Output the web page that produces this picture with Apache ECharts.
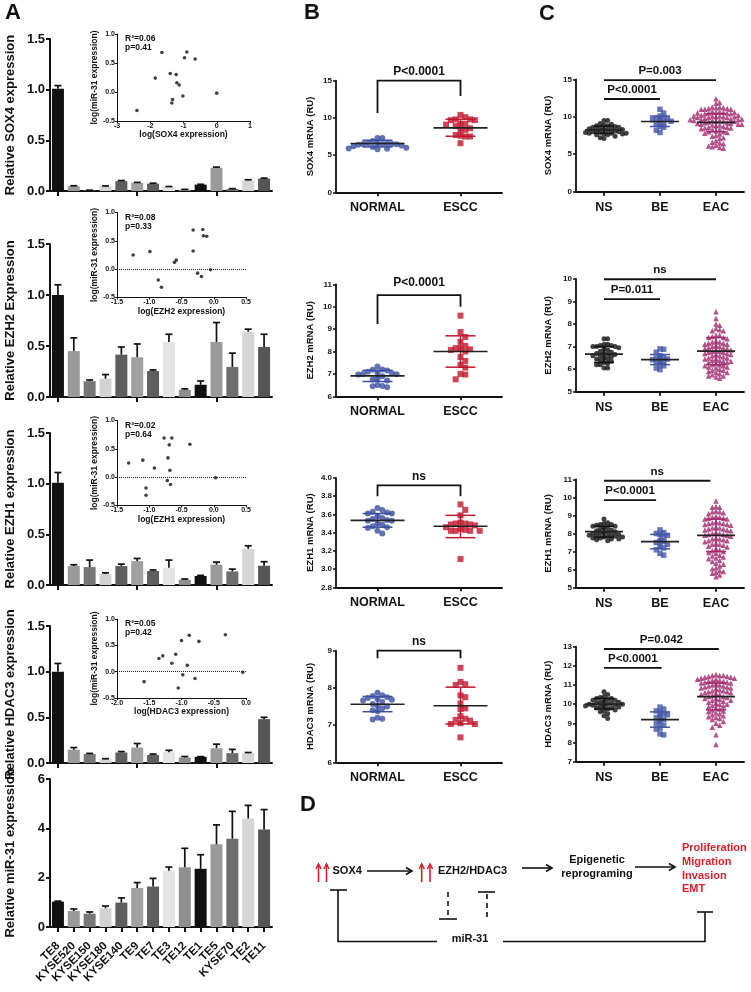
<!DOCTYPE html>
<html>
<head>
<meta charset="utf-8">
<script src="https://cdn.jsdelivr.net/npm/echarts@6/dist/echarts.min.js"></script>
<style>
html, body { margin: 0; padding: 0; background: #fff; }
#fig { width: 751px; height: 992px; }
</style>
</head>
<body>
<div id="fig"></div>
<script>
const FONT = '"Liberation Sans", Arial, sans-serif';
const INK = '#111';

// ---- Panel A: cell lines ----
const cellLines = ['TE8', 'KYSE520', 'KYSE150', 'KYSE180', 'KYSE140', 'TE9', 'TE7', 'TE3', 'TE12', 'TE1', 'TE5', 'KYSE70', 'TE2', 'TE11'];
const sox4Rel = [1.01, 0.047, 0.006, 0.045, 0.097, 0.08, 0.073, 0.04, 0.013, 0.063, 0.23, 0.02, 0.105, 0.122];
const sox4Err = [0.03, 0.005, 0.002, 0.005, 0.006, 0.005, 0.004, 0.004, 0.003, 0.003, 0.006, 0.003, 0.006, 0.005];
const ezh2Rel = [1.0, 0.45, 0.155, 0.18, 0.415, 0.39, 0.255, 0.54, 0.07, 0.12, 0.54, 0.295, 0.64, 0.49];
const ezh2Err = [0.1, 0.13, 0.012, 0.04, 0.075, 0.13, 0.01, 0.075, 0.01, 0.037, 0.19, 0.135, 0.025, 0.125];
const ezh1Rel = [1.01, 0.187, 0.177, 0.108, 0.187, 0.236, 0.138, 0.17, 0.052, 0.089, 0.2, 0.134, 0.357, 0.19];
const ezh1Err = [0.1, 0.013, 0.069, 0.012, 0.019, 0.026, 0.01, 0.076, 0.007, 0.006, 0.026, 0.023, 0.03, 0.04];
const hdac3Rel = [1.0, 0.145, 0.098, 0.04, 0.115, 0.169, 0.088, 0.118, 0.06, 0.068, 0.162, 0.108, 0.108, 0.48];
const hdac3Err = [0.09, 0.024, 0.007, 0.007, 0.01, 0.044, 0.01, 0.021, 0.011, 0.002, 0.044, 0.041, 0.007, 0.02];
const mir31Rel = [1.03, 0.65, 0.54, 0.76, 0.99, 1.58, 1.64, 2.28, 2.42, 2.36, 3.35, 3.58, 4.4, 3.95];
const mir31Err = [0.02, 0.08, 0.07, 0.09, 0.19, 0.22, 0.33, 0.15, 0.77, 0.57, 0.79, 1.11, 0.53, 0.81];
const barShades = ['#111111', '#9a9a9a', '#777777', '#d2d2d2', '#5e5e5e', '#a0a0a0', '#5e5e5e', '#e4e4e4', '#8e8e8e', '#111111', '#9a9a9a', '#6e6e6e', '#d6d6d6', '#555555'];

// inset correlations: [log(gene expression), log(miR-31 expression)]
const sox4Log = [[-2.4, -0.32], [-1.85, 0.24], [-1.65, 0.68], [-1.4, 0.32], [-1.22, 0.3], [-1.2, 0.16], [-1.13, 0.12], [-1.33, -0.13], [-1.35, -0.19], [-1.02, -0.07], [-0.97, 0.59], [-0.9, 0.69], [-0.65, 0.57], [0.0, -0.02]];
const ezh2Log = [[-1.25, 0.25], [-0.99, 0.31], [-0.86, -0.19], [-0.81, -0.32], [-0.61, 0.12], [-0.58, 0.16], [-0.32, 0.69], [-0.32, 0.32], [-0.25, -0.07], [-0.19, -0.13], [-0.17, 0.7], [-0.16, 0.59], [-0.11, 0.58], [-0.05, -0.01]];
const ezh1Log = [[-1.32, 0.25], [-1.1, 0.3], [-1.05, -0.19], [-1.05, -0.32], [-0.92, 0.16], [-0.77, 0.69], [-0.71, 0.34], [-0.69, 0.57], [-0.68, 0.12], [-0.72, -0.06], [-0.67, -0.13], [-0.65, 0.69], [-0.37, 0.58], [0.03, -0.01]];
const hdac3Log = [[-1.58, -0.19], [-1.35, 0.25], [-1.29, 0.3], [-1.15, 0.16], [-1.09, 0.33], [-1.05, -0.31], [-0.98, -0.06], [-0.91, 0.12], [-0.79, -0.13], [-0.05, -0.01], [-1.0, 0.59], [-0.88, 0.69], [-0.73, 0.575], [-0.32, 0.7]];

// ---- Panel B: tissues (NORMAL vs ESCC) ----
const bGroups = ['NORMAL', 'ESCC'];
const normalSox4 = [7.3, 7.3, 6.9, 6.6, 6.6, 6.55, 6.5, 6.5, 6.5, 6.45, 6.4, 6.3, 6.2, 6.1, 6.0, 5.9, 5.85, 5.8];
const esccSox4 = [10.4, 10.1, 9.8, 9.8, 9.7, 9.7, 9.2, 9.2, 9.1, 8.9, 8.6, 8.4, 8.4, 7.7, 7.6, 7.5, 7.5, 6.6];
const normalEzh2 = [7.33, 7.2, 7.18, 7.15, 7.1, 7.05, 7.03, 7.0, 6.98, 6.97, 6.9, 6.78, 6.75, 6.7, 6.5, 6.46, 6.4, 6.45];
const esccEzh2 = [9.6, 8.87, 8.65, 8.43, 8.25, 8.15, 8.15, 8.1, 8.07, 8.0, 7.75, 7.58, 7.4, 7.28, 7.0, 6.97, 6.76];
const normalEzh1 = [3.67, 3.65, 3.63, 3.62, 3.61, 3.61, 3.58, 3.56, 3.55, 3.54, 3.53, 3.53, 3.5, 3.49, 3.47, 3.46, 3.45, 3.42, 3.39];
const esccEzh1 = [3.71, 3.65, 3.59, 3.51, 3.5, 3.5, 3.49, 3.49, 3.48, 3.46, 3.44, 3.43, 3.42, 3.42, 3.42, 3.42, 3.11];
const normalHdac3 = [7.87, 7.8, 7.78, 7.75, 7.73, 7.7, 7.68, 7.66, 7.62, 7.57, 7.52, 7.5, 7.45, 7.4, 7.37, 7.2, 7.17, 7.15];
const esccHdac3 = [8.54, 8.16, 8.1, 8.08, 7.8, 7.75, 7.58, 7.45, 7.43, 7.24, 7.17, 7.14, 7.12, 7.05, 7.03, 7.03, 6.67];
// [mean, +SD, -SD] per group
const bSox4Stats = [[6.56, 7.0, 6.1], [8.66, 9.82, 7.54]];
const bEzh2Stats = [[6.91, 7.16, 6.66], [8.0, 8.7, 7.3]];
const bEzh1Stats = [[3.535, 3.61, 3.46], [3.47, 3.59, 3.345]];
const bHdac3Stats = [[7.56, 7.77, 7.36], [7.52, 8.02, 7.03]];

// ---- Panel C: NS / BE / EAC ----
const cGroups = ['NS', 'BE', 'EAC'];
const nsSox4 = [9.5, 9.5, 9.1, 9.0, 8.9, 8.8, 8.8, 8.7, 8.6, 8.6, 8.5, 8.4, 8.4, 8.3, 8.3, 8.2, 8.2, 8.1, 8.0, 8.0, 7.9, 7.9, 7.8, 7.8, 7.8, 7.7, 7.7, 7.6, 7.6, 7.4, 7.2, 7.1];
const beSox4 = [11.0, 10.5, 10.1, 9.9, 9.8, 9.7, 9.6, 9.5, 9.4, 9.2, 9.0, 8.7, 8.6, 8.2, 7.9];
const eacSox4 = [12.4, 11.9, 11.8, 11.3, 11.3, 11.2, 11.2, 11.1, 11.1, 11.0, 11.0, 11.0,
  10.7, 10.7, 10.6, 10.6, 10.6, 10.5, 10.5, 10.5, 10.4, 10.4,
  10.2, 10.2, 10.1, 10.1, 10.1, 10.0, 10.0, 10.0, 9.9, 9.9, 9.9, 9.8,
  9.7, 9.7, 9.6, 9.6, 9.6, 9.5, 9.5, 9.5, 9.4, 9.4, 9.4, 9.3,
  9.2, 9.2, 9.1, 9.1, 9.0, 9.0, 9.0, 8.9, 8.9, 8.8,
  8.7, 8.6, 8.6, 8.5, 8.5, 8.4, 8.3, 8.3,
  8.1, 8.0, 8.0, 7.9, 7.8, 7.7,
  7.5, 7.4, 7.2, 7.1,
  6.8, 6.6, 6.5, 6.4,
  6.2, 6.1, 6.0, 5.9, 5.8];
const nsEzh2 = [7.35, 7.35, 7.1, 7.1, 7.05, 7.05, 7.0, 7.0, 7.0, 6.95, 6.9, 6.85, 6.8, 6.75, 6.7, 6.7, 6.65, 6.65, 6.6, 6.6, 6.55, 6.5, 6.45, 6.45, 6.4, 6.35, 6.3, 6.25, 6.2, 6.2, 6.05, 6.05];
const beEzh2 = [6.9, 6.88, 6.75, 6.6, 6.55, 6.5, 6.45, 6.42, 6.4, 6.35, 6.3, 6.2, 6.15, 6.05, 5.98];
const eacEzh2 = [8.55, 8.25, 8.0, 7.95, 7.8, 7.75, 7.7, 7.7, 7.5, 7.5, 7.45, 7.4, 7.4, 7.35,
  7.25, 7.2, 7.2, 7.15, 7.15, 7.1, 7.1, 7.05,
  7.0, 7.0, 6.95, 6.95, 6.9, 6.9, 6.85, 6.85, 6.8,
  6.8, 6.75, 6.75, 6.7, 6.7, 6.65, 6.65, 6.6, 6.6, 6.55,
  6.5, 6.5, 6.45, 6.45, 6.4, 6.4, 6.35, 6.35, 6.3, 6.3,
  6.25, 6.2, 6.2, 6.15, 6.15, 6.1, 6.1, 6.05, 6.0,
  5.95, 5.95, 5.9, 5.85, 5.85, 5.8,
  5.75, 5.7, 5.7, 5.65, 5.6];
const nsEzh1 = [8.8, 8.6, 8.55, 8.5, 8.5, 8.45, 8.4, 8.4, 8.35, 8.3, 8.25, 8.2, 8.15, 8.1, 8.1, 8.05, 8.0, 8.0, 7.95, 7.95, 7.9, 7.9, 7.85, 7.85, 7.8, 7.8, 7.75, 7.75, 7.7, 7.7, 7.65, 7.6];
const beEzh1 = [8.2, 8.05, 8.0, 7.95, 7.9, 7.8, 7.6, 7.55, 7.5, 7.4, 7.3, 7.2, 7.1, 6.9, 6.8];
const eacEzh1 = [9.8, 9.5, 9.45, 9.45, 9.25, 9.2, 9.2, 9.15, 9.1,
  8.95, 8.9, 8.9, 8.85, 8.85, 8.8, 8.8,
  8.65, 8.6, 8.6, 8.55, 8.55, 8.5, 8.5, 8.45,
  8.35, 8.3, 8.3, 8.25, 8.25, 8.2, 8.2, 8.15,
  8.05, 8.0, 8.0, 7.95, 7.95, 7.9, 7.9, 7.85,
  7.75, 7.7, 7.7, 7.65, 7.6, 7.6, 7.55,
  7.45, 7.4, 7.4, 7.35, 7.3, 7.25,
  7.15, 7.1, 7.05, 7.0, 6.95, 6.9,
  6.8, 6.75, 6.7, 6.65, 6.6,
  6.5, 6.45, 6.35, 6.3,
  6.2, 6.1, 6.05,
  5.95, 5.9, 5.85, 5.8,
  5.7, 5.6];
const nsHdac3 = [10.65, 10.5, 10.4, 10.35, 10.3, 10.3, 10.25, 10.2, 10.2, 10.15, 10.1, 10.1, 10.05, 10.05, 10.0, 10.0, 10.0, 9.95, 9.95, 9.9, 9.9, 9.85, 9.85, 9.8, 9.8, 9.75, 9.7, 9.65, 9.6, 9.5, 9.4, 9.25];
const beHdac3 = [9.85, 9.75, 9.65, 9.6, 9.5, 9.45, 9.35, 9.3, 9.2, 9.1, 9.0, 8.9, 8.75, 8.7, 8.45, 8.4];
const eacHdac3 = [11.55, 11.5, 11.5, 11.5, 11.45, 11.45, 11.4, 11.4, 11.35, 11.35,
  11.3, 11.3, 11.25, 11.25, 11.2, 11.2, 11.15, 11.15, 11.1, 11.1,
  11.05, 11.0, 11.0, 10.95, 10.95, 10.9, 10.9, 10.85, 10.85, 10.8,
  10.75, 10.7, 10.7, 10.65, 10.65, 10.6, 10.6, 10.55, 10.5, 10.5,
  10.45, 10.4, 10.4, 10.35, 10.3, 10.3, 10.25, 10.2, 10.2, 10.15,
  10.1, 10.05, 10.0, 10.0, 9.95, 9.9, 9.85, 9.8, 9.75,
  9.7, 9.65, 9.6, 9.55, 9.5, 9.45, 9.4, 9.35,
  9.3, 9.25, 9.2, 9.1, 9.0,
  8.9, 8.8, 8.4, 7.9];
const cSox4Stats = [[8.26, 8.75, 7.8], [9.37, 10.1, 8.7], [9.24, 10.4, 8.0]];
const cEzh2Stats = [[6.67, 7.0, 6.3], [6.42, 6.65, 6.2], [6.8, 7.4, 6.2]];
const cEzh1Stats = [[8.1, 8.4, 7.8], [7.55, 7.95, 7.15], [7.9, 8.8, 7.0]];
const cHdac3Stats = [[10.0, 10.3, 9.75], [9.2, 9.6, 8.8], [10.4, 11.1, 9.7]];

// significance marks (data coords of each plot)
const bSox4Sig = [{ x: [0, 1], y: 15, legs: [10.66, 12.94], label: 'P<0.0001' }];
const bEzh2Sig = [{ x: [0, 1], y: 10.52, legs: [9.23, 10.0], label: 'P<0.0001' }];
const bEzh1Sig = [{ x: [0, 1], y: 3.92, legs: [3.8, 3.8], label: 'ns' }];
const bHdac3Sig = [{ x: [0, 1], y: 9.0, legs: [8.8, 8.8], label: 'ns' }];
const cSox4Sig = [{ x: [0, 2], y: 14.9, label: 'P=0.003' }, { x: [0, 1], y: 12.37, label: 'P<0.0001' }];
const cEzh2Sig = [{ x: [0, 2], y: 9.99, label: 'ns' }, { x: [0, 1], y: 9.11, label: 'P=0.011' }];
const cEzh1Sig = [{ x: [0, 1.9], y: 10.92, label: 'ns' }, { x: [0, 0.93], y: 9.85, label: 'P<0.0001' }];
const cHdac3Sig = [{ x: [0, 2.05], y: 12.88, label: 'P=0.042' }, { x: [0, 1.03], y: 11.9, label: 'P<0.0001' }];

// ---------------------------------------------------------------
const grids = [], xAxes = [], yAxes = [], series = [], graphics = [];

function lineOf(w) { return { show: true, onZero: false, lineStyle: { color: INK, width: w } }; }

function errorBarItem(params, api) {
  const base = api.coord([api.value(0), api.value(1)]);
  const top = api.coord([api.value(0), api.value(1) + api.value(2)]);
  const st = { stroke: INK, lineWidth: 1.7 };
  return { type: 'group', children: [
    { type: 'line', shape: { x1: base[0], y1: base[1], x2: top[0], y2: top[1] }, style: st },
    { type: 'line', shape: { x1: top[0] - 3.5, y1: top[1], x2: top[0] + 3.5, y2: top[1] }, style: st }
  ] };
}

function addBarPanel(p) {
  const gi = grids.length, xi = xAxes.length, yi = yAxes.length;
  grids.push({ left: 50, top: p.top, width: 222, height: p.height, containLabel: false, outerBoundsMode: 'none' });
  xAxes.push({
    gridIndex: gi, type: 'category', data: cellLines,
    axisLine: lineOf(2),
    axisTick: { show: true, alignWithLabel: true, length: 5, lineStyle: { width: 2, color: INK } },
    axisLabel: p.labels
      ? { show: true, rotate: 45, interval: 0, fontSize: 11.5, fontWeight: 'bold', color: INK, margin: 17 }
      : { show: false }
  });
  yAxes.push({
    gridIndex: gi, type: 'value', min: 0, max: p.max, interval: p.step,
    name: p.title, nameLocation: 'middle', nameGap: 33, nameRotate: 90,
    nameTextStyle: { fontSize: 13, fontWeight: 'bold', color: INK },
    axisLine: lineOf(2),
    axisTick: { show: true, length: 4, lineStyle: { width: 2, color: INK } },
    splitLine: { show: false },
    axisLabel: { fontSize: 13, fontWeight: 'bold', color: INK, margin: 5, formatter: p.fmt }
  });
  series.push({
    type: 'bar', xAxisIndex: xi, yAxisIndex: yi, barWidth: 12, silent: true,
    data: p.values.map((v, i) => ({ value: v, itemStyle: { color: barShades[i] } }))
  });
  series.push({
    type: 'custom', xAxisIndex: xi, yAxisIndex: yi, z: 3, silent: true,
    data: p.values.map((v, i) => [i, v, p.errors[i]]), renderItem: errorBarItem
  });
}

function addInset(p) {
  const gi = grids.length, xi = xAxes.length, yi = yAxes.length;
  grids.push({ left: 117, top: p.top, width: p.width, height: p.height, containLabel: false, outerBoundsMode: 'none' });
  xAxes.push({
    gridIndex: gi, type: 'value', min: p.xmin, max: p.xmax, interval: p.xstep,
    name: p.xname, nameLocation: 'middle', nameGap: 9,
    nameTextStyle: { fontSize: 8.5, fontWeight: 'bold', color: INK },
    axisLine: lineOf(1), axisTick: { length: 2, lineStyle: { width: 1, color: INK } },
    axisLabel: { fontSize: 7, fontWeight: 'bold', color: INK, margin: 1.5, formatter: p.xfmt },
    splitLine: { show: false }
  });
  yAxes.push({
    gridIndex: gi, type: 'value', min: -0.5, max: 1, interval: 0.5,
    name: 'log(miR-31 expression)', nameLocation: 'middle', nameGap: 9, nameRotate: 90,
    nameTextStyle: { fontSize: 8.5, fontWeight: 'bold', color: INK },
    axisLine: lineOf(1), axisTick: { length: 2, lineStyle: { width: 1, color: INK } },
    axisLabel: { fontSize: 7, fontWeight: 'bold', color: INK, margin: 2, formatter: v => v.toFixed(1) },
    splitLine: { show: false }
  });
  const s = {
    type: 'scatter', xAxisIndex: xi, yAxisIndex: yi, symbolSize: 3.6, silent: true,
    itemStyle: { color: INK }, data: p.points
  };
  if (p.zero) {
    s.markLine = {
      silent: true, symbol: ['none', 'none'], label: { show: false },
      lineStyle: { type: 'dotted', color: '#222', width: 1 }, data: [{ yAxis: 0 }]
    };
  }
  series.push(s);
  graphics.push({ type: 'text', x: 125, y: p.top + 5, style: { text: p.r2, font: 'bold 8.5px ' + FONT, fill: INK, verticalAlign: 'middle' } });
  graphics.push({ type: 'text', x: 125, y: p.top + 14, style: { text: p.pv, font: 'bold 8.5px ' + FONT, fill: INK, verticalAlign: 'middle' } });
}

// spread points sideways so equal values do not hide each other
function swarm(values, center, pxX, pxY, wx, wy) {
  const order = values.map((v, i) => i).sort((a, b) => values[b] - values[a]);
  const placed = [], pts = [];
  order.forEach(i => {
    const py = values[i] * pxY;
    let off = 0;
    for (let k = 0; k < 400; k++) {
      const cand = (k % 2 ? 1 : -1) * Math.ceil(k / 2) * wx / 2;
      if (!placed.some(q => Math.abs(q[0] - cand) < wx - 0.01 && Math.abs(q[1] - py) < wy)) { off = cand; break; }
    }
    placed.push([off, py]);
    pts.push([center + off / pxX, values[i]]);
  });
  return pts;
}

function meanSdItem(colors, halfMean, halfCap) {
  return function (params, api) {
    const k = api.value(0);
    const m = api.coord([k, api.value(1)]);
    const hi = api.coord([k, api.value(2)]);
    const lo = api.coord([k, api.value(3)]);
    const c = colors[params.dataIndex];
    return { type: 'group', children: [
      { type: 'line', shape: { x1: hi[0], y1: hi[1], x2: lo[0], y2: lo[1] }, style: { stroke: c, lineWidth: 1.5 } },
      { type: 'line', shape: { x1: hi[0] - halfCap, y1: hi[1], x2: hi[0] + halfCap, y2: hi[1] }, style: { stroke: c, lineWidth: 1.5 } },
      { type: 'line', shape: { x1: lo[0] - halfCap, y1: lo[1], x2: lo[0] + halfCap, y2: lo[1] }, style: { stroke: c, lineWidth: 1.5 } },
      { type: 'line', shape: { x1: m[0] - halfMean, y1: m[1], x2: m[0] + halfMean, y2: m[1] }, style: { stroke: '#222', lineWidth: 1.7 } }
    ] };
  };
}

function sigItem(list, fontSize, gap) {
  return function (params, api) {
    const a = list[params.dataIndex];
    const l = api.coord([a.x[0], a.y]);
    const r = api.coord([a.x[1], a.y]);
    const pts = [];
    if (a.legs) pts.push(api.coord([a.x[0], a.legs[0]]));
    pts.push(l, r);
    if (a.legs) pts.push(api.coord([a.x[1], a.legs[1]]));
    return { type: 'group', children: [
      { type: 'polyline', shape: { points: pts }, style: { stroke: INK, lineWidth: 1.8, fill: null } },
      { type: 'text', x: (l[0] + r[0]) / 2, y: l[1] - gap,
        style: { text: a.label, font: 'bold ' + fontSize + 'px ' + FONT, fill: INK, align: 'center', verticalAlign: 'bottom' } }
    ] };
  };
}

function addDotPlot(p) {
  const gi = grids.length, xi = xAxes.length, yi = yAxes.length;
  grids.push({ left: p.left, top: p.top, width: p.width, height: p.height, containLabel: false, outerBoundsMode: 'none' });
  xAxes.push({
    gridIndex: gi, type: 'category', data: p.groups,
    axisLine: lineOf(1.8),
    axisTick: { show: true, alignWithLabel: true, length: 4, lineStyle: { width: 1.8, color: INK } },
    axisLabel: { fontSize: 12.5, fontWeight: 'bold', color: INK, margin: 9 }
  });
  xAxes.push({ gridIndex: gi, type: 'value', min: -0.5, max: p.groups.length - 0.5, show: false });
  yAxes.push({
    gridIndex: gi, type: 'value', min: p.ymin, max: p.ymax, interval: p.ystep,
    name: p.title, nameLocation: 'middle', nameGap: p.nameGap, nameRotate: 90,
    nameTextStyle: { fontSize: 9.5, fontWeight: 'bold', color: INK },
    axisLine: lineOf(1.8),
    axisTick: { show: true, length: 3, lineStyle: { width: 1.5, color: INK } },
    splitLine: { show: false },
    axisLabel: { fontSize: 8, fontWeight: 'bold', color: INK, margin: 4, formatter: p.fmt }
  });
  const vx = xi + 1;
  const pxX = p.width / p.groups.length;
  const pxY = p.height / (p.ymax - p.ymin);
  p.sets.forEach((vals, k) => {
    series.push({
      type: 'scatter', xAxisIndex: vx, yAxisIndex: yi, silent: true,
      symbol: p.symbols[k], symbolSize: p.sizes[k], itemStyle: { color: p.colors[k] },
      data: swarm(vals, k, pxX, pxY, p.wx, p.wy)
    });
  });
  series.push({
    type: 'custom', xAxisIndex: vx, yAxisIndex: yi, z: 4, silent: true,
    data: p.stats.map((s, k) => [k, s[0], s[1], s[2]]),
    renderItem: meanSdItem(p.sdColors, p.halfMean, p.halfCap)
  });
  series.push({
    type: 'custom', xAxisIndex: vx, yAxisIndex: yi, z: 4, silent: true, clip: false,
    data: p.sig.map(a => [a.x[0], a.y]),
    renderItem: sigItem(p.sig, p.sigFont, p.sigGap)
  });
}

// ---- Panel A ----
const fmt1 = v => v.toFixed(1);
addBarPanel({ top: 39, height: 152, max: 1.5, step: 0.5, fmt: fmt1, title: 'Relative SOX4 expression', values: sox4Rel, errors: sox4Err });
addBarPanel({ top: 244, height: 153, max: 1.5, step: 0.5, fmt: fmt1, title: 'Relative EZH2 Expression', values: ezh2Rel, errors: ezh2Err });
addBarPanel({ top: 433, height: 152, max: 1.5, step: 0.5, fmt: fmt1, title: 'Relative EZH1 expression', values: ezh1Rel, errors: ezh1Err });
addBarPanel({ top: 626, height: 137, max: 1.5, step: 0.5, fmt: fmt1, title: 'Relative HDAC3 expression', values: hdac3Rel, errors: hdac3Err });
addBarPanel({ top: 779, height: 148, max: 6, step: 2, fmt: v => String(v), title: 'Relative miR-31 expression', values: mir31Rel, errors: mir31Err, labels: true });

addInset({ top: 34, width: 133, height: 87, xmin: -3, xmax: 1, xstep: 1, xfmt: v => String(v), xname: 'log(SOX4 expression)', points: sox4Log, r2: 'R²=0.06', pv: 'p=0.41' });
addInset({ top: 212.5, width: 129, height: 85, xmin: -1.5, xmax: 0.5, xstep: 0.5, xfmt: fmt1, xname: 'log(EZH2 expression)', points: ezh2Log, zero: true, r2: 'R²=0.08', pv: 'p=0.33' });
addInset({ top: 420.5, width: 129, height: 85, xmin: -1.5, xmax: 0.5, xstep: 0.5, xfmt: fmt1, xname: 'log(EZH1 expression)', points: ezh1Log, zero: true, r2: 'R²=0.02', pv: 'p=0.64' });
addInset({ top: 619, width: 129, height: 79, xmin: -2, xmax: 0, xstep: 0.5, xfmt: fmt1, xname: 'log(HDAC3 expression)', points: hdac3Log, zero: true, r2: 'R²=0.05', pv: 'p=0.42' });

// ---- Panel B ----
const blue = '#3b4fa0', red = '#c0172c', magenta = '#a0286e';
const bBase = { left: 336, width: 166, groups: bGroups, symbols: ['circle', 'rect'], sizes: [6, 6], colors: [blue, red], sdColors: [blue, red], halfMean: 27, halfCap: 15, wx: 4.8, wy: 5.5, nameGap: 21, sigFont: 12, sigGap: 3 };
addDotPlot(Object.assign({}, bBase, { top: 80.7, height: 111.6, ymin: 0, ymax: 15, ystep: 5, fmt: v => String(v), title: 'SOX4 mRNA (RU)', sets: [normalSox4, esccSox4], stats: bSox4Stats, sig: bSox4Sig }));
addDotPlot(Object.assign({}, bBase, { top: 284.3, height: 112, ymin: 6, ymax: 11, ystep: 1, fmt: v => String(v), title: 'EZH2 mRNA (RU)', sets: [normalEzh2, esccEzh2], stats: bEzh2Stats, sig: bEzh2Sig, sigGap: 6 }));
addDotPlot(Object.assign({}, bBase, { top: 478, height: 109.3, ymin: 2.8, ymax: 4.0, ystep: 0.2, fmt: fmt1, title: 'EZH1 mRNA (RU)', sets: [normalEzh1, esccEzh1], stats: bEzh1Stats, sig: bEzh1Sig }));
addDotPlot(Object.assign({}, bBase, { top: 650.7, height: 111.6, ymin: 6, ymax: 9, ystep: 1, fmt: v => String(v), title: 'HDAC3 mRNA (RU)', sets: [normalHdac3, esccHdac3], stats: bHdac3Stats, sig: bHdac3Sig }));

// ---- Panel C ----
const cBase = { left: 576, width: 168, groups: cGroups, symbols: ['circle', 'rect', 'triangle'], sizes: [5, 5.5, 5.5], colors: [INK, '#4456a6', magenta], sdColors: [INK, '#4456a6', magenta], halfMean: 19, halfCap: 10, wx: 3.7, wy: 4.3, nameGap: 23, sigFont: 11.5, sigGap: 3 };
addDotPlot(Object.assign({}, cBase, { top: 79.3, height: 112.4, ymin: 0, ymax: 15, ystep: 5, fmt: v => String(v), title: 'SOX4 mRNA (RU)', sets: [nsSox4, beSox4, eacSox4], stats: cSox4Stats, sig: cSox4Sig }));
addDotPlot(Object.assign({}, cBase, { top: 279, height: 112.7, ymin: 5, ymax: 10, ystep: 1, fmt: v => String(v), title: 'EZH2 mRNA (RU)', sets: [nsEzh2, beEzh2, eacEzh2], stats: cEzh2Stats, sig: cEzh2Sig }));
addDotPlot(Object.assign({}, cBase, { top: 479.3, height: 108.4, ymin: 5, ymax: 11, ystep: 1, fmt: v => String(v), title: 'EZH1 mRNA (RU)', sets: [nsEzh1, beEzh1, eacEzh1], stats: cEzh1Stats, sig: cEzh1Sig }));
addDotPlot(Object.assign({}, cBase, { top: 646.7, height: 115, ymin: 7, ymax: 13, ystep: 1, fmt: v => String(v), title: 'HDAC3 mRNA (RU)', sets: [nsHdac3, beHdac3, eacHdac3], stats: cHdac3Stats, sig: cHdac3Sig }));

// ---- panel letters ----
[['A', 5, 13], ['B', 304, 12.5], ['C', 539, 13.5], ['D', 300, 805]].forEach(l => {
  graphics.push({ type: 'text', x: l[1], y: l[2], style: { text: l[0], font: 'bold 22px ' + FONT, fill: INK, verticalAlign: 'middle' } });
});

// ---- Panel D: schematic ----
const RED = '#d81f2a';
function seg(x1, y1, x2, y2, color, dash) {
  return { type: 'line', shape: { x1, y1, x2, y2 }, style: { stroke: color || INK, lineWidth: 1.6, lineDash: dash || null } };
}
function poly(points, color, w) {
  return { type: 'polyline', shape: { points }, style: { stroke: color || INK, lineWidth: w || 1.6, fill: null } };
}
function arrowRight(x1, x2, y) {
  return [seg(x1, y, x2, y), poly([[x2 - 6, y - 3.5], [x2, y], [x2 - 6, y + 3.5]])];
}
function arrowUp(x, yBottom, yTip) {
  return [seg(x, yBottom, x, yTip, RED), poly([[x - 2.6, yTip + 5], [x, yTip], [x + 2.6, yTip + 5]], RED, 1.5)];
}
function label(text, x, y, color, align) {
  return { type: 'text', x, y, style: { text, font: 'bold 11px ' + FONT, fill: color || INK, align: align || 'left', verticalAlign: 'middle', lineHeight: 13.7 } };
}
const dEls = [].concat(
  arrowUp(318.5, 882, 864), arrowUp(326.5, 882, 864),
  [label('SOX4', 332.5, 871)],
  arrowRight(367, 412, 871),
  arrowUp(421.7, 882, 864), arrowUp(430, 882, 864),
  [label('EZH2/HDAC3', 438, 871)],
  arrowRight(522, 552, 868),
  [label('Epigenetic', 597, 860, INK, 'center'), label('reprograming', 597, 873.5, INK, 'center')],
  arrowRight(635, 675, 867),
  [{ type: 'text', x: 682, y: 841.5, style: { text: 'Proliferation\nMigration\nInvasion\nEMT', font: 'bold 11px ' + FONT, fill: RED, align: 'left', verticalAlign: 'top', lineHeight: 13.7 } }],
  [poly([[338, 890], [338, 941.5], [437, 941.5]]), seg(330, 890, 347, 890)],
  [label('miR-31', 470, 938.5, INK, 'center')],
  [poly([[503, 941.5], [705, 941.5], [705, 912]]), seg(697, 912, 713, 912)],
  [seg(448, 892, 448, 918, INK, [5, 4]), seg(439, 919, 457, 919)],
  [seg(487, 894, 487, 920, INK, [5, 4]), seg(478, 892, 495, 892)]
);
dEls.forEach(e => graphics.push(e));

const chart = echarts.init(document.getElementById('fig'), null, { renderer: 'canvas' });
chart.setOption({
  animation: false,
  backgroundColor: '#fff',
  textStyle: { fontFamily: FONT },
  grid: grids,
  xAxis: xAxes,
  yAxis: yAxes,
  series: series,
  graphic: { elements: graphics }
});
</script>
</body>
</html>
